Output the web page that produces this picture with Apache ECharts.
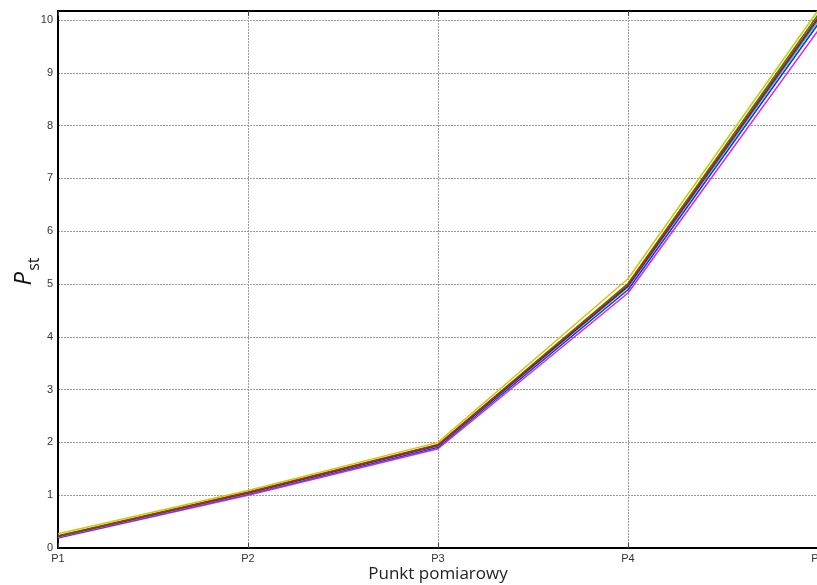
<!DOCTYPE html>
<html>
<head>
<meta charset="utf-8">
<script src="https://cdn.jsdelivr.net/npm/echarts@6/dist/echarts.min.js"></script>
<style>html,body{margin:0;padding:0;background:#fff;}#c{width:817px;height:585px;}</style>
</head>
<body>
<div id="c"></div>
<script>
var categories = ['P1', 'P2', 'P3', 'P4', 'P5'];
var yellowVals  = [0.27, 1.09, 2.00, 5.10, 10.18];
var greenVals   = [0.23, 1.06, 1.96, 5.01, 10.10];
var redVals     = [0.22, 1.05, 1.95, 4.98, 10.05];
var blackVals   = [0.22, 1.04, 1.94, 4.96, 10.02];
var cyanVals    = [0.21, 1.03, 1.93, 4.94, 9.98];
var blueVals    = [0.20, 1.02, 1.91, 4.89, 9.92];
var magentaVals = [0.19, 1.00, 1.88, 4.83, 9.80];
var yTicks = [0, 1, 2, 3, 4, 5, 6, 7, 8, 9, 10];

var seriesDefs = [
  {name: 'm', data: magentaVals, color: '#e020e0'},
  {name: 'b', data: blueVals, color: '#1030f0'},
  {name: 'c', data: cyanVals, color: '#20c8d8'},
  {name: 'k', data: blackVals, color: '#303030'},
  {name: 'g', data: greenVals, color: '#1a8a1a'},
  {name: 'r', data: redVals, color: '#e01010'},
  {name: 'y', data: yellowVals, color: '#d0c800'}
];

var chart = echarts.init(document.getElementById('c'), null, {renderer: 'canvas'});
chart.setOption({
  animation: false,
  backgroundColor: '#fff',
  grid: {left: 58, top: 11, width: 760, bottom: 37, containLabel: false, outerBoundsMode: 'none'},
  xAxis: [{
    type: 'category', data: categories, boundaryGap: false, position: 'bottom',
    axisLine: {lineStyle: {color: '#000', width: 2}},
    axisTick: {inside: true, length: 5, lineStyle: {color: '#444'}},
    axisLabel: {color: '#333', fontSize: 11, fontFamily: 'Liberation Sans, Arial', margin: 5},
    splitLine: {show: true, lineStyle: {color: '#999', type: [2, 1], width: 1}},
    name: 'Punkt pomiarowy', nameLocation: 'middle', nameGap: 18, nameMoveOverlap: false,
    nameTextStyle: {fontSize: 17, color: '#222', fontFamily: 'Open Sans'}
  }, {
    type: 'category', data: categories, boundaryGap: false, position: 'top',
    axisLine: {lineStyle: {color: '#000', width: 2}},
    axisTick: {inside: true, length: 5, lineStyle: {color: '#444'}},
    axisLabel: {show: false}, splitLine: {show: false}
  }],
  yAxis: [{
    type: 'value', min: 0, max: 10.17, interval: 1,
    axisLine: {show: true, lineStyle: {color: '#000', width: 2}},
    axisTick: {inside: true, length: 6, lineStyle: {color: '#444'}},
    axisLabel: {color: '#333', fontSize: 11, fontFamily: 'Liberation Sans, Arial', margin: 5,
      showMaxLabel: false,
      formatter: function (v) { return yTicks.indexOf(v) >= 0 ? String(v) : ''; }},
    splitLine: {show: true, lineStyle: {color: '#999', type: [2, 1], width: 1}},
    name: '{p|P}{s|st}', nameLocation: 'middle', nameGap: 22, nameRotate: 90, nameMoveOverlap: false,
    nameTextStyle: {
      rich: {
        p: {fontSize: 24, fontStyle: 'italic', fontFamily: 'Open Sans', color: '#111', verticalAlign: 'bottom', padding: [0, 0, 0, 16]},
        s: {fontSize: 16, fontFamily: 'Open Sans', color: '#111', verticalAlign: 'bottom', padding: [0, 0, -6, 1]}
      }
    }
  }],
  series: seriesDefs.map(function (s) {
    return {
      type: 'line', name: s.name, data: s.data, xAxisIndex: 0,
      showSymbol: false, symbol: 'none',
      lineStyle: {color: s.color, width: 1.5},
      itemStyle: {color: s.color}
    };
  })
});
</script>
</body>
</html>
